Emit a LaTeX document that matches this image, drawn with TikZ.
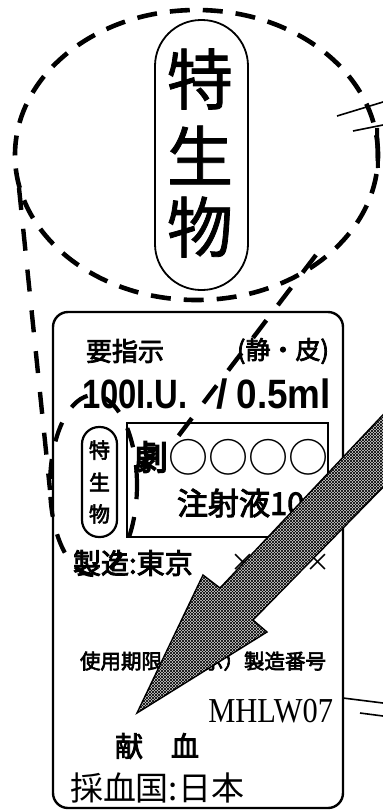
\documentclass[tikz,border=0pt]{standalone}
\usepackage{fontspec}
\usepackage{graphicx}
\setmainfont{Liberation Sans}
\newfontfamily\jp{Noto Sans CJK JP}
\newfontfamily\jpm[FakeBold=1.2]{Noto Sans CJK JP}
\newfontfamily\jpb[FakeBold=3]{Noto Sans CJK JP}
\newfontfamily\jpx[FakeBold=4.5]{Noto Sans CJK JP}
\newfontfamily\ser{Liberation Serif}
\usetikzlibrary{patterns}
\begin{document}
\begin{tikzpicture}[x=1pt,y=-1pt,
  bigdash/.style={line width=4.6pt,dash pattern=on 20pt off 13pt},
  linedash/.style={line width=4.4pt,dash pattern=on 22pt off 19pt},
  smalldash/.style={line width=4.2pt,dash pattern=on 20pt off 18pt},
  capsule/.style={draw,line width=1.8pt,inner sep=0pt},
  txt/.style={inner sep=0pt,outer sep=0pt},
  frag/.style={line width=1.6pt}]
\useasboundingbox[fill=white] (0,0) rectangle (383,812);

% big dashed circle
\draw[bigdash] (196.5,155) ellipse [x radius=181.5pt, y radius=145pt];

% big capsule
\node[capsule,rounded corners=46pt,minimum width=93pt,minimum height=270pt] (bigcap) at (201.5,155) {};
\node[txt] (bt1) at (200,79) {\jpm\fontsize{66}{66}\selectfont 特};
\node[txt] (bt2) at (200,155) {\jpm\fontsize{66}{66}\selectfont 生};
\node[txt] (bt3) at (200,227) {\jpm\fontsize{66}{66}\selectfont 物};

% label
\node[draw,line width=2.4pt,rounded corners=15pt,minimum width=290pt,minimum height=496pt,inner sep=0pt] (label) at (198,560) {};
\node[draw,line width=2.2pt,minimum width=201pt,minimum height=114pt,inner sep=0pt] (inner) at (227.5,480) {};
\node[capsule,line width=2.2pt,rounded corners=17pt,minimum width=35pt,minimum height=110pt] (smallcap) at (99.5,482) {};
\node[txt] (st1) at (99.5,450) {\jpb\fontsize{21}{21}\selectfont 特};
\node[txt] (st2) at (99.5,482) {\jpb\fontsize{21}{21}\selectfont 生};
\node[txt] (st3) at (99.5,514) {\jpb\fontsize{21}{21}\selectfont 物};

\node[txt] (yoshiji) at (125,351) {\jpb\fontsize{26}{26}\selectfont 要指示};
\node[txt] (seihi) at (283,351) {\jpb\fontsize{25}{25}\selectfont (静・皮)};
\node[txt,anchor=base west] (iu) at (82,408) {\scalebox{0.8}[1]{\fontsize{41}{41}\selectfont\bfseries 100I.U.}};
\node[txt,anchor=base] (slash) at (222,408) {\fontsize{41}{41}\selectfont\bfseries /};
\node[txt,anchor=base east] (ml) at (331,408) {\scalebox{0.9}[1]{\fontsize{41}{41}\selectfont\bfseries 0.5ml}};

\node[txt] (geki) at (151,457) {\jpx\fontsize{34}{34}\selectfont 劇};
\node[txt] (maru) at (248,457) {\jp\fontsize{40}{40}\selectfont ○○○○};
\node[txt,anchor=west] (chusha) at (177,503) {\jpb\fontsize{31}{31}\selectfont 注射液100};

\node[txt,anchor=west] (seizo) at (73,563) {\jpb\fontsize{28}{28}\selectfont 製造:東京};
\node[txt,anchor=west] (xx) at (230,563) {\jp\fontsize{25}{25}\selectfont ××××};
\node[txt] (kigen) at (203,661) {\jpb\fontsize{20.5}{20.5}\selectfont 使用期限（表示）製造番号};
\node[txt,anchor=base east] (mhlw) at (333,722) {\scalebox{0.87}[1]{\ser\fontsize{35}{35}\selectfont MHLW07}};
\node[txt,anchor=west] (kenketsu) at (115,746) {\jpb\fontsize{28}{28}\selectfont 献　血};
\node[txt,anchor=west] (saiketsu) at (70,788) {\jp\fontsize{33}{33}\selectfont 採血国:日本};

% small dashed ellipse and connecting dashed lines
\draw[smalldash] (93.5,485) ellipse [x radius=43.5pt, y radius=90pt];
\coordinate (a1) at (19,188);
\coordinate (a2) at (50,490);
\coordinate (b1) at (316,255);
\coordinate (b2) at (170,447);
\draw[linedash] (a1) -- (a2);
\draw[linedash] (b1) -- (b2);

% hatched arrow
\draw[line width=1.4pt,fill=gray!35,
  postaction={pattern=north east lines,pattern color=black},
  postaction={pattern=north west lines,pattern color=black}]
  (137,713) -- (203,575) -- (220,588) -- (395,402) -- (395,475)
  -- (253,620) -- (267,632) -- cycle;

% cut-off fragments at the right edge
\draw[frag] (337,116) -- (383,102);
\draw[frag] (353,131) -- (383,125);
\draw[line width=4pt] (377,128) -- (378,168);
\draw[frag] (343,698) -- (383,703);
\draw[frag] (360,713) -- (383,716);
\end{tikzpicture}
\end{document}
